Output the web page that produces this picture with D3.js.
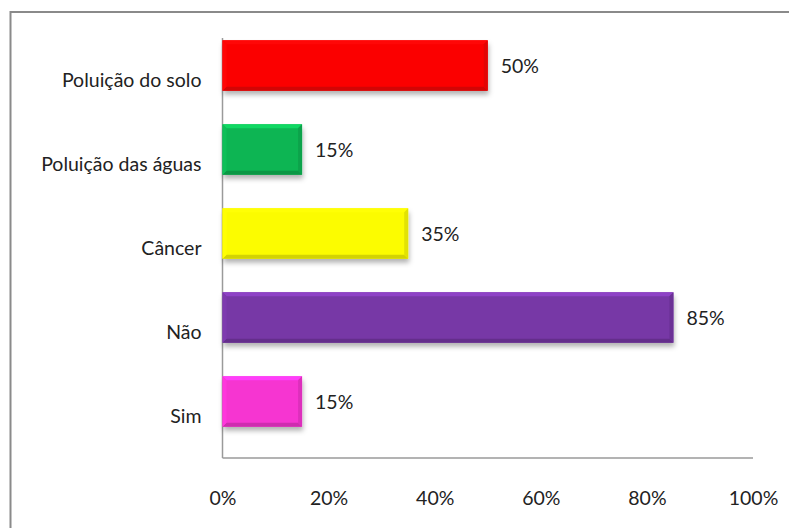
<!DOCTYPE html>
<html><head><meta charset="utf-8">
<script src="https://cdn.jsdelivr.net/npm/d3@7"></script>
<style>
html,body{margin:0;padding:0;background:#fff;}
svg text{font-family:"Lato","Open Sans",sans-serif;fill:#222;}
</style></head>
<body><svg id="c" width="789" height="528"></svg>
<script>
const categories = ["Poluição do solo","Poluição das águas","Câncer","Não","Sim"];
const values = [50,15,35,85,15];
const colors = ["#fb0606","#0db553","#fcfc04","#7737a6","#f634d1"];
const tickValues = [0,20,40,60,80,100];

const svg = d3.select("#c");
const W = 789, H = 528;
const mLeft = 222.5, mRight = 753, mTop = 38, mBottom = 458;
const fs = 19.5;

svg.append("rect").attr("x",10.5).attr("y",12).attr("width",W).attr("height",H)
  .attr("fill","none").attr("stroke","#8a8a8a").attr("stroke-width",2);

const defs = svg.append("defs");
const f = defs.append("filter").attr("id","sh").attr("x","-10%").attr("y","-30%").attr("width","130%").attr("height","180%");
f.append("feDropShadow").attr("dx",1).attr("dy",4).attr("stdDeviation",2.5).attr("flood-color","#000").attr("flood-opacity",0.3);

const x = d3.scaleLinear().domain([0,100]).range([mLeft,mRight]);
const y = d3.scaleBand().domain(categories).range([mTop,mBottom]).paddingInner(0.4).paddingOuter(0.2);
const shift = -14.5;

svg.append("line").attr("x1",mLeft).attr("x2",mLeft).attr("y1",mTop).attr("y2",mBottom).attr("stroke","#9a9a9a").attr("stroke-width",1.5);
svg.append("line").attr("x1",mLeft).attr("x2",mRight).attr("y1",mBottom).attr("y2",mBottom).attr("stroke","#9a9a9a").attr("stroke-width",1.5);

const xAxis = d3.axisBottom(x).tickValues(tickValues).tickFormat(d=>d+"%").tickSize(0).tickPadding(0);
const gx = svg.append("g").attr("transform",`translate(0,${mBottom})`).call(xAxis);
gx.select(".domain").remove();
gx.selectAll("text").attr("dy",null).attr("y",47).attr("font-size",fs).attr("fill","#222");

const yAxis = d3.axisLeft(y).tickSize(0).tickPadding(21);
const gy = svg.append("g").attr("transform",`translate(${mLeft},0)`).call(yAxis);
gy.select(".domain").remove();
gy.selectAll("text").attr("font-size",fs).attr("fill","#222").attr("dy","0.36em");

const bh = y.bandwidth();
const bev = 4;
const bars = svg.selectAll(".bar").data(categories).enter().append("g")
  .attr("transform",(d)=>`translate(0,${y(d)+shift})`);
bars.each(function(d,i){
  const g = d3.select(this);
  const x0 = x(0), x1 = x(values[i]);
  const c = d3.color(colors[i]);
  g.append("rect").attr("x",x0).attr("y",0).attr("width",x1-x0).attr("height",bh)
    .attr("fill",colors[i]).attr("filter","url(#sh)");
  g.append("path").attr("d",`M${x0},0H${x1}L${x1-bev},${bev}H${x0+bev}Z`).attr("fill",c.brighter(0.5));
  g.append("path").attr("d",`M${x0},${bh}H${x1}L${x1-bev},${bh-bev}H${x0+bev}Z`).attr("fill",c.darker(0.5));
  g.append("path").attr("d",`M${x1},0V${bh}L${x1-bev},${bh-bev}V${bev}Z`).attr("fill",c.darker(0.3));
  g.append("path").attr("d",`M${x0},0V${bh}L${x0+bev},${bh-bev}V${bev}Z`).attr("fill",c.brighter(0.15));
  g.append("text").attr("x",x1+13).attr("y",bh/2).attr("dy","0.36em")
    .attr("font-size",fs).attr("fill","#222").text(values[i]+"%");
});
</script></body></html>
